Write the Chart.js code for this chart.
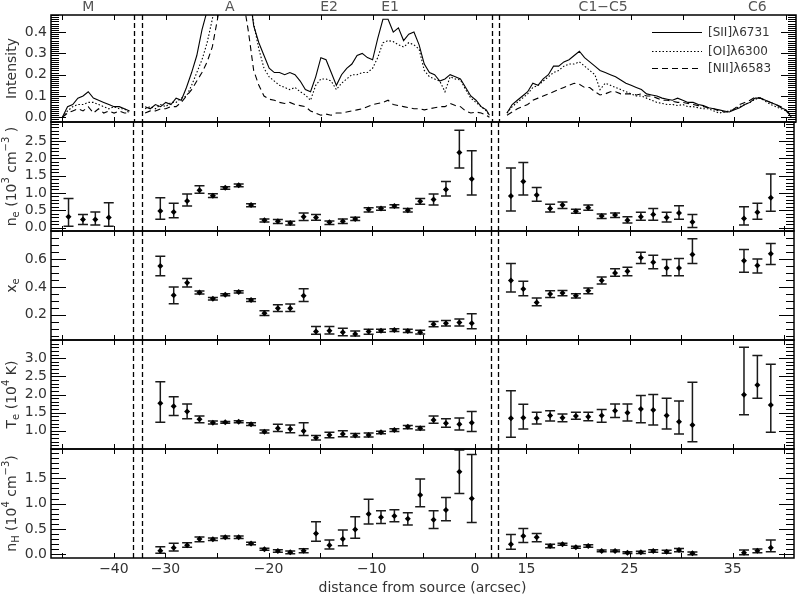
<!DOCTYPE html>
<html>
<head>
<meta charset="utf-8">
<title>Line intensities and diagnostics along the flow</title>
<script src="https://cdn.jsdelivr.net/npm/chart.js@4.4.1/dist/chart.umd.min.js"></script>
<style>
  body { margin: 0; background: #fff; }
  #wrap { position: relative; width: 798px; height: 600px; }
  #wrap canvas { position: absolute; left: 0; top: 0; }
</style>
</head>
<body>
<div id="wrap">
  <canvas id="p0" width="798" height="600"></canvas>
  <canvas id="p1" width="798" height="600"></canvas>
  <canvas id="p2" width="798" height="600"></canvas>
  <canvas id="p3" width="798" height="600"></canvas>
  <canvas id="p4" width="798" height="600"></canvas>
</div>
<script>
// ---- data (distance from source, arcsec) ----
const tickDist = [-40, -30, -20, -10, 0, 15, 25, 35];
const regionNames = ["M", "A", "E2", "E1", "C1\u2212C5", "C6"];
const regionDist = [-42.5, -23.8, -14.2, -8.3, 22.3, 37.2];
const legendNames = ["[SII]\u03bb6731", "[OI]\u03bb6300", "[NII]\u03bb6583"];

// spectra, three stretches of slit
const specM = [-45, -44.5, -44, -43.5, -43, -42.5, -42, -41.5, -41, -40.5, -40, -39.5, -39, -38.5];
const siiM = [0.00, 0.05, 0.06, 0.09, 0.10, 0.12, 0.09, 0.08, 0.07, 0.06, 0.05, 0.05, 0.04, 0.03];
const oiM  = [0.00, 0.03, 0.05, 0.06, 0.06, 0.07, 0.07, 0.06, 0.05, 0.04, 0.05, 0.04, 0.04, 0.02];
const niiM = [0.00, 0.02, 0.03, 0.04, 0.03, 0.05, 0.02, 0.04, 0.02, 0.03, 0.02, 0.03, 0.02, 0.02];

const specA = [-32, -31.5, -31, -30.5, -30, -29.5, -29, -28.5, -28, -27.5,
  -27, -26.5, -26, -25.5, -25, -24.5, -24, -23.5, -23, -22.5,
  -22, -21.5, -21, -20.5, -20, -19.5, -19, -18.5, -18, -17.5,
  -17, -16.5, -16, -15.5, -15, -14.5, -14, -13.5, -13, -12.5,
  -12, -11.5, -11, -10.5, -10, -9.5, -9, -8.5, -8, -7.5,
  -7, -6.5, -6, -5.5, -5, -4.5, -4, -3.5, -3, -2.5,
  -2, -1.5, -1, -0.5, 0, 0.5, 1, 1.3];
const siiA = [0.05, 0.04, 0.06, 0.05, 0.07, 0.06, 0.09, 0.08, 0.14, 0.21,
  0.29, 0.41, 0.50, 0.62, 0.75, 0.90, 1.0, 1.0, 1.0, 0.80,
  0.62, 0.43, 0.35, 0.29, 0.23, 0.21, 0.21, 0.20, 0.21, 0.20,
  0.17, 0.13, 0.12, 0.19, 0.28, 0.27, 0.21, 0.15, 0.20, 0.23,
  0.25, 0.29, 0.30, 0.28, 0.27, 0.37, 0.46, 0.46, 0.40, 0.42,
  0.36, 0.39, 0.40, 0.34, 0.25, 0.21, 0.20, 0.17, 0.18, 0.20,
  0.19, 0.18, 0.14, 0.10, 0.08, 0.05, 0.035, 0.01];
const oiA = [0.04, 0.05, 0.04, 0.06, 0.05, 0.07, 0.07, 0.09, 0.10, 0.15,
  0.21, 0.27, 0.35, 0.46, 0.58, 0.75, 0.9, 0.9, 0.9, 0.75,
  0.60, 0.44, 0.32, 0.23, 0.19, 0.17, 0.15, 0.14, 0.13, 0.14,
  0.12, 0.105, 0.08, 0.15, 0.18, 0.18, 0.17, 0.13, 0.16, 0.18,
  0.20, 0.20, 0.21, 0.21, 0.23, 0.28, 0.35, 0.36, 0.355, 0.34,
  0.33, 0.35, 0.34, 0.32, 0.22, 0.19, 0.18, 0.17, 0.12, 0.19,
  0.18, 0.175, 0.13, 0.09, 0.07, 0.05, 0.03, 0.01];
const niiA = [0.02, 0.03, 0.03, 0.04, 0.04, 0.05, 0.05, 0.07, 0.10, 0.13,
  0.17, 0.21, 0.26, 0.33, 0.46, 0.6, 0.8, 0.8, 0.75, 0.55,
  0.40, 0.22, 0.15, 0.10, 0.085, 0.08, 0.07, 0.065, 0.07, 0.06,
  0.055, 0.05, 0.03, 0.02, 0.01, 0.015, 0.01, 0.02, 0.02, 0.025,
  0.03, 0.035, 0.04, 0.05, 0.06, 0.065, 0.07, 0.08, 0.06, 0.055,
  0.05, 0.045, 0.04, 0.04, 0.035, 0.04, 0.045, 0.05, 0.05, 0.065,
  0.055, 0.05, 0.03, 0.02, 0.025, 0.02, 0.01, 0.0];

const specR = [13, 13.5, 14, 14.5, 15, 15.5, 16, 16.5, 17, 17.5,
  18, 18.5, 19, 19.5, 20, 20.5, 21, 21.5, 22, 22.5,
  23, 23.5, 24, 24.5, 25, 25.5, 26, 26.5, 27, 27.5,
  28, 28.5, 29, 29.5, 30, 30.5, 31, 31.5, 32, 32.5,
  33, 33.5, 34, 34.5, 35, 35.5, 36, 36.5, 37, 37.5,
  38, 38.5, 39, 39.5, 40, 40.5];
const siiR = [0.02, 0.06, 0.08, 0.10, 0.12, 0.16, 0.15, 0.18, 0.20, 0.24,
  0.24, 0.26, 0.27, 0.29, 0.31, 0.28, 0.26, 0.24, 0.22, 0.21,
  0.20, 0.19, 0.175, 0.16, 0.15, 0.14, 0.13, 0.11, 0.105, 0.10,
  0.09, 0.085, 0.08, 0.09, 0.08, 0.07, 0.07, 0.06, 0.055, 0.045,
  0.04, 0.035, 0.03, 0.025, 0.035, 0.045, 0.06, 0.07, 0.09, 0.09,
  0.08, 0.07, 0.06, 0.045, 0.035, 0.0];
const oiR = [0.02, 0.05, 0.07, 0.09, 0.11, 0.14, 0.15, 0.17, 0.19, 0.21,
  0.22, 0.24, 0.25, 0.25, 0.26, 0.24, 0.22, 0.20, 0.13, 0.16,
  0.15, 0.14, 0.13, 0.12, 0.11, 0.10, 0.10, 0.09, 0.08, 0.07,
  0.065, 0.06, 0.06, 0.055, 0.06, 0.05, 0.05, 0.045, 0.04, 0.04,
  0.03, 0.02, 0.025, 0.03, 0.04, 0.05, 0.06, 0.07, 0.085, 0.09,
  0.075, 0.06, 0.05, 0.04, 0.03, 0.0];
const niiR = [0.01, 0.025, 0.04, 0.05, 0.06, 0.08, 0.09, 0.10, 0.11, 0.12,
  0.13, 0.14, 0.15, 0.16, 0.155, 0.14, 0.14, 0.12, 0.105, 0.11,
  0.12, 0.12, 0.11, 0.11, 0.11, 0.105, 0.11, 0.10, 0.10, 0.09,
  0.08, 0.08, 0.075, 0.07, 0.07, 0.065, 0.06, 0.055, 0.05, 0.045,
  0.04, 0.03, 0.025, 0.025, 0.04, 0.06, 0.07, 0.08, 0.095, 0.09,
  0.08, 0.07, 0.06, 0.05, 0.03, 0.01];

// knots measured in the diagnostic panels
const dist = [-44.4, -43.0, -41.8, -40.5,
  -30.5, -29.2, -27.9, -26.7, -25.4, -24.2, -22.9, -21.7, -20.4, -19.1,
  -17.9, -16.6, -15.4, -14.1, -12.8, -11.6, -10.3, -9.1, -7.8, -6.5,
  -5.3, -4.0, -2.8, -1.5, -0.3,
  13.5, 14.7, 16.0, 17.3, 18.5, 19.8, 21.0, 22.3, 23.6, 24.8,
  26.1, 27.3, 28.6, 29.8, 31.1, 36.1, 37.4, 38.7];

const neVal = [0.31, 0.23, 0.23, 0.29,
  0.48, 0.45, 0.77, 1.08, 0.92, 1.15, 1.22, 0.65, 0.21, 0.18,
  0.13, 0.31, 0.29, 0.15, 0.18, 0.25, 0.52, 0.55, 0.62, 0.50,
  0.76, 0.81, 1.10, 2.17, 1.40,
  0.91, 1.33, 0.94, 0.55, 0.65, 0.47, 0.57, 0.33, 0.36, 0.21,
  0.31, 0.38, 0.29, 0.42, 0.16, 0.26, 0.44, 0.86];
const neLo = [0.04, 0.09, 0.07, 0.04,
  0.24, 0.28, 0.62, 0.99, 0.87, 1.11, 1.18, 0.60, 0.16, 0.12,
  0.07, 0.20, 0.21, 0.09, 0.12, 0.20, 0.45, 0.50, 0.57, 0.45,
  0.67, 0.65, 0.91, 1.72, 0.94,
  0.48, 0.94, 0.76, 0.45, 0.55, 0.41, 0.50, 0.26, 0.29, 0.13,
  0.21, 0.21, 0.16, 0.24, 0.00, 0.07, 0.24, 0.47];
const neHi = [0.84, 0.38, 0.45, 0.72,
  0.86, 0.70, 0.97, 1.21, 0.98, 1.18, 1.26, 0.69, 0.25, 0.23,
  0.18, 0.42, 0.38, 0.19, 0.25, 0.30, 0.57, 0.59, 0.66, 0.55,
  0.84, 0.97, 1.33, 2.81, 2.22,
  1.72, 1.88, 1.16, 0.67, 0.74, 0.53, 0.65, 0.39, 0.42, 0.31,
  0.44, 0.55, 0.44, 0.63, 0.38, 0.60, 0.70, 1.55];

const xeVal = [null, null, null, null,
  0.55, 0.34, 0.43, 0.36, 0.315, 0.344, 0.363, 0.306, 0.212, 0.248,
  0.248, 0.337, 0.08, 0.087, 0.075, 0.063, 0.08, 0.087, 0.092, 0.085,
  0.075, 0.133, 0.14, 0.145, 0.14,
  0.445, 0.385, 0.289, 0.349, 0.356, 0.337, 0.373, 0.445, 0.50, 0.512,
  0.608, 0.576, 0.536, 0.536, 0.632, 0.588, 0.553, 0.637];
const xeLo = [null, null, null, null,
  0.48, 0.28, 0.40, 0.35, 0.306, 0.337, 0.356, 0.296, 0.195, 0.224,
  0.224, 0.296, 0.061, 0.063, 0.051, 0.049, 0.061, 0.075, 0.08, 0.073,
  0.063, 0.114, 0.121, 0.121, 0.101,
  0.363, 0.337, 0.265, 0.325, 0.337, 0.32, 0.351, 0.421, 0.476, 0.48,
  0.567, 0.529, 0.48, 0.48, 0.567, 0.504, 0.50, 0.56];
const xeHi = [null, null, null, null,
  0.62, 0.40, 0.46, 0.37, 0.325, 0.351, 0.373, 0.315, 0.229, 0.272,
  0.277, 0.387, 0.116, 0.116, 0.104, 0.085, 0.097, 0.097, 0.101, 0.097,
  0.09, 0.152, 0.159, 0.171, 0.207,
  0.567, 0.44, 0.32, 0.373, 0.375, 0.351, 0.392, 0.471, 0.529, 0.54,
  0.648, 0.627, 0.596, 0.603, 0.745, 0.668, 0.60, 0.711];

const teVal = [null, null, null, null,
  1.76, 1.68, 1.53, 1.32, 1.22, 1.235, 1.25, 1.18, 0.976, 1.07,
  1.05, 0.995, 0.81, 0.885, 0.91, 0.87, 0.885, 0.96, 1.02, 1.11,
  1.07, 1.30, 1.21, 1.18, 1.22,
  1.345, 1.36, 1.345, 1.42, 1.36, 1.41, 1.39, 1.42, 1.55, 1.50,
  1.60, 1.57, 1.42, 1.25, 1.16, 1.99, 2.26, 1.71];
const teLo = [null, null, null, null,
  1.235, 1.42, 1.33, 1.22, 1.19, 1.21, 1.22, 1.15, 0.94, 0.98,
  0.95, 0.87, 0.75, 0.81, 0.84, 0.83, 0.83, 0.92, 0.98, 1.06,
  1.02, 1.21, 1.10, 1.02, 0.98,
  0.82, 1.05, 1.19, 1.27, 1.25, 1.32, 1.28, 1.235, 1.37, 1.27,
  1.22, 1.16, 1.05, 0.91, 0.70, 1.44, 1.895, 0.96];
const teHi = [null, null, null, null,
  2.35, 1.94, 1.74, 1.41, 1.27, 1.26, 1.28, 1.22, 1.02, 1.18,
  1.16, 1.22, 0.87, 0.96, 1.0, 0.93, 0.94, 0.99, 1.06, 1.15,
  1.12, 1.41, 1.33, 1.35, 1.53,
  2.10, 1.73, 1.51, 1.55, 1.46, 1.51, 1.51, 1.59, 1.74, 1.74,
  1.97, 2.0, 1.90, 1.82, 2.34, 3.30, 3.07, 2.83];

const nhVal = [null, null, null, null,
  0.07, 0.13, 0.18, 0.30, 0.295, 0.335, 0.335, 0.215, 0.10, 0.065,
  0.04, 0.07, 0.41, 0.18, 0.30, 0.49, 0.795, 0.73, 0.755, 0.70,
  1.17, 0.68, 0.875, 1.63, 1.10,
  0.20, 0.36, 0.335, 0.165, 0.20, 0.14, 0.165, 0.065, 0.065, 0.03,
  0.04, 0.065, 0.05, 0.085, 0.02, 0.03, 0.07, 0.13];
const nhLo = [null, null, null, null,
  0.02, 0.065, 0.14, 0.25, 0.27, 0.31, 0.31, 0.19, 0.08, 0.04,
  0.01, 0.03, 0.26, 0.105, 0.17, 0.315, 0.60, 0.61, 0.64, 0.58,
  0.94, 0.51, 0.66, 1.20, 0.63,
  0.10, 0.235, 0.25, 0.13, 0.18, 0.12, 0.14, 0.05, 0.05, 0.015,
  0.015, 0.04, 0.02, 0.05, -0.01, -0.01, 0.03, 0.05];
const nhHi = [null, null, null, null,
  0.15, 0.22, 0.23, 0.34, 0.32, 0.36, 0.36, 0.24, 0.12, 0.09,
  0.065, 0.11, 0.64, 0.28, 0.48, 0.74, 1.085, 0.86, 0.88, 0.82,
  1.485, 0.86, 1.12, 2.06, 1.97,
  0.39, 0.51, 0.41, 0.20, 0.22, 0.16, 0.19, 0.085, 0.085, 0.05,
  0.06, 0.09, 0.08, 0.115, 0.045, 0.085, 0.105, 0.28];

// ---- axis layout ----
// the slit axis is broken twice: M is shifted by +5", the far side by -10"
function toAxis(d) {
  return d < -33 ? d + 5 : (d > 2 ? d - 10 : d);
}
const breakPos = [-33.1, -32.3, 1.55, 2.2];
const FONT = "DejaVu Sans";
const INK = "#333";

function richText(ctx, parts, x, y, size) {
  ctx.save();
  ctx.translate(x, y);
  ctx.rotate(-Math.PI / 2);
  ctx.textBaseline = "middle";
  ctx.textAlign = "left";
  const small = Math.round(size * 0.7);
  const w = parts.map(([t, k]) => {
    ctx.font = (k ? small : size) + "px " + FONT;
    return ctx.measureText(t).width;
  });
  let cx = -w.reduce((s, v) => s + v, 0) / 2;
  parts.forEach(([t, k], i) => {
    ctx.font = (k ? small : size) + "px " + FONT;
    const dy = k === 1 ? size * 0.3 : (k === 2 ? -size * 0.38 : 0);
    ctx.fillText(t, cx, dy);
    cx += w[i];
  });
  ctx.restore();
}

const idl = {
  id: "idl",
  beforeDatasetsDraw(chart, args, o) {
    if (!o.err) return;
    const { ctx, scales: { x, y } } = chart;
    const [lo, hi] = o.err;
    ctx.save();
    ctx.strokeStyle = "#1a1a1a";
    ctx.lineWidth = 1.5;
    ctx.beginPath();
    dist.forEach((d, i) => {
      if (lo[i] == null) return;
      const px = x.getPixelForValue(toAxis(d));
      const a = y.getPixelForValue(lo[i]);
      const b = y.getPixelForValue(hi[i]);
      ctx.moveTo(px, a); ctx.lineTo(px, b);
      ctx.moveTo(px - 5, a); ctx.lineTo(px + 5, a);
      ctx.moveTo(px - 5, b); ctx.lineTo(px + 5, b);
    });
    ctx.stroke();
    ctx.restore();
  },
  afterDraw(chart, args, o) {
    const { ctx, chartArea: a, scales: { x, y } } = chart;
    ctx.save();
    ctx.strokeStyle = "#000";

    // dashed markers where the axis is broken
    ctx.lineWidth = 1.3;
    ctx.setLineDash([5, 3]);
    breakPos.forEach(u => {
      const px = Math.round(x.getPixelForValue(u)) + 0.5;
      ctx.beginPath();
      ctx.moveTo(px, a.top);
      ctx.lineTo(px, a.bottom);
      ctx.stroke();
    });
    ctx.setLineDash([]);

    ctx.lineWidth = 1.5;
    ctx.strokeRect(a.left, a.top, a.right - a.left, a.bottom - a.top);

    // inward ticks on all four sides
    ctx.lineWidth = 1;
    ctx.beginPath();
    const yTick = (v, len) => {
      const py = Math.round(y.getPixelForValue(v)) + 0.5;
      ctx.moveTo(a.left, py); ctx.lineTo(a.left + len, py);
      ctx.moveTo(a.right, py); ctx.lineTo(a.right - len, py);
    };
    for (let k = Math.ceil(y.min / o.minor - 1e-6); k * o.minor <= y.max + 1e-9; k++) yTick(k * o.minor, 8);
    o.major.forEach(v => yTick(v, 15));
    for (let u = -40; u <= 30; u += 5) {
      const px = Math.round(x.getPixelForValue(u)) + 0.5;
      ctx.moveTo(px, a.top); ctx.lineTo(px, a.top + 5);
      ctx.moveTo(px, a.bottom); ctx.lineTo(px, a.bottom - 5);
    }
    ctx.stroke();

    ctx.fillStyle = INK;
    richText(ctx, o.title, 12, (a.top + a.bottom) / 2, 14);

    if (o.xTitle) {
      ctx.font = "14px " + FONT;
      ctx.textAlign = "center";
      ctx.textBaseline = "middle";
      ctx.fillText(o.xTitle, (a.left + a.right) / 2, 588);
    }

    if (o.top) {
      ctx.font = "14px " + FONT;
      ctx.fillStyle = "#555";
      ctx.textAlign = "center";
      ctx.textBaseline = "middle";
      regionNames.forEach((n, i) => ctx.fillText(n, x.getPixelForValue(toAxis(regionDist[i])), 7));

      const dashes = [[], [1.5, 2], [6, 4]];
      const rows = [32, 51, 68];
      ctx.textAlign = "left";
      ctx.fillStyle = INK;
      ctx.font = "12px " + FONT;
      legendNames.forEach((n, i) => {
        ctx.lineWidth = 1.2;
        ctx.setLineDash(dashes[i]);
        ctx.beginPath();
        ctx.moveTo(652, rows[i] + 0.5);
        ctx.lineTo(702, rows[i] + 0.5);
        ctx.stroke();
        ctx.fillText(n, 708, rows[i] + 1);
      });
      ctx.setLineDash([]);
    }
    ctx.restore();
  }
};

const panels = [
  { top: 15, bottom: 122, min: -0.022, max: 0.48, major: [0, 0.1, 0.2, 0.3, 0.4], minor: 0.01,
    title: [["Intensity", 0]] },
  { top: 122, bottom: 231, min: -0.1, max: 3.05, major: [0, 0.5, 1, 1.5, 2, 2.5], minor: 0.1,
    title: [["n", 0], ["e", 1], [" (10", 0], ["3", 2], [" cm", 0], ["\u22123", 2], [" )", 0]] },
  { top: 231, bottom: 340, min: 0.02, max: 0.80, major: [0.2, 0.4, 0.6], minor: 0.05,
    title: [["x", 0], ["e", 1]] },
  { top: 340, bottom: 449, min: 0.5, max: 3.5, major: [1, 1.5, 2, 2.5, 3], minor: 0.1,
    title: [["T", 0], ["e", 1], [" (10", 0], ["4", 2], [" K)", 0]] },
  { top: 449, bottom: 558, min: -0.073, max: 2.078, major: [0, 0.5, 1, 1.5], minor: 0.1,
    title: [["n", 0], ["H", 1], [" (10", 0], ["4", 2], [" cm", 0], ["\u22123", 2], [")", 0]] }
];

function spectrum(xs, ys, dash) {
  return {
    data: xs.map((d, i) => ({ x: toAxis(d), y: ys[i] })),
    borderColor: "#000", borderWidth: 1.1, borderDash: dash,
    pointRadius: 0, tension: 0, clip: 0
  };
}

function knots(vals) {
  return {
    data: dist.map((d, i) => vals[i] == null ? null : { x: toAxis(d), y: vals[i] }).filter(Boolean),
    showLine: false, pointStyle: "rectRot", pointRadius: 3,
    pointBackgroundColor: "#000", pointBorderColor: "#000", pointBorderWidth: 0
  };
}

function makePanel(i, datasets, err) {
  const p = panels[i];
  const last = i === panels.length - 1;
  return new Chart(document.getElementById("p" + i), {
    type: "line",
    data: { datasets },
    options: {
      responsive: false, animation: false, events: [],
      layout: { padding: { left: 0, right: 2, top: p.top, bottom: last ? 0 : 600 - p.bottom } },
      plugins: {
        legend: { display: false },
        tooltip: { enabled: false },
        idl: { major: p.major, minor: p.minor, title: p.title, err,
               top: i === 0, xTitle: last ? "distance from source (arcsec)" : null }
      },
      scales: {
        x: {
          type: "linear", min: -41.1, max: 30.95, display: last,
          afterFit: s => { s.height = last ? 42 : 0; },
          afterBuildTicks: s => { s.ticks = tickDist.map(d => ({ value: toAxis(d) })); },
          grid: { display: false, drawTicks: false }, border: { display: false },
          ticks: {
            autoSkip: false, maxRotation: 0, minRotation: 0, padding: 3,
            color: INK, font: { family: FONT, size: 14 },
            callback: (v, k) => tickDist[k] < 0 ? "\u2212" + Math.abs(tickDist[k]) : String(tickDist[k])
          }
        },
        y: {
          min: p.min, max: p.max,
          afterFit: s => { s.width = 51; },
          afterBuildTicks: s => { s.ticks = p.major.map(v => ({ value: v })); },
          grid: { display: false, drawTicks: false }, border: { display: false },
          ticks: { padding: 4, color: INK, font: { family: FONT, size: 14 }, callback: v => v.toFixed(1) }
        }
      }
    },
    plugins: [idl]
  });
}

makePanel(0, [
  spectrum(specM, siiM, []), spectrum(specA, siiA, []), spectrum(specR, siiR, []),
  spectrum(specM, oiM, [1.5, 2]), spectrum(specA, oiA, [1.5, 2]), spectrum(specR, oiR, [1.5, 2]),
  spectrum(specM, niiM, [6, 4]), spectrum(specA, niiA, [6, 4]), spectrum(specR, niiR, [6, 4])
]);
makePanel(1, [knots(neVal)], [neLo, neHi]);
makePanel(2, [knots(xeVal)], [xeLo, xeHi]);
makePanel(3, [knots(teVal)], [teLo, teHi]);
makePanel(4, [knots(nhVal)], [nhLo, nhHi]);
</script>
</body>
</html>
